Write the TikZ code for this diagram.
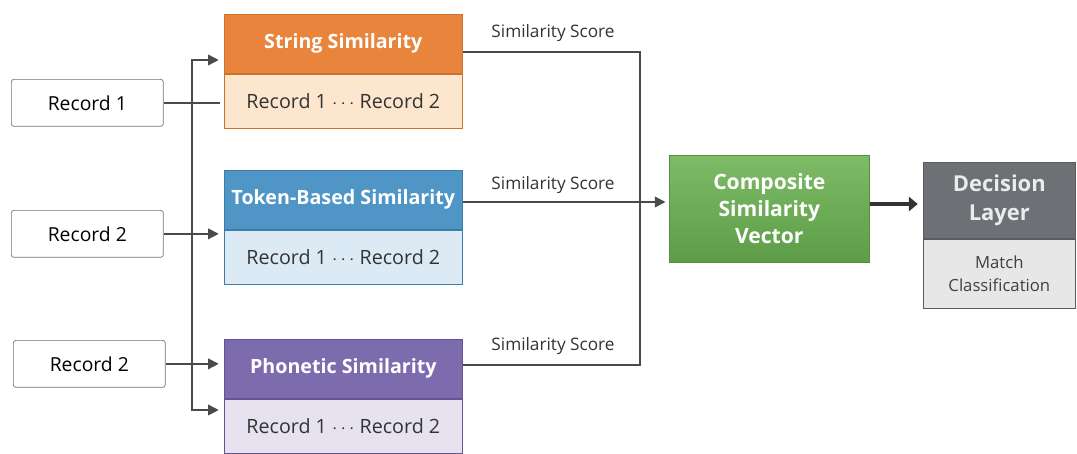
\documentclass[tikz,border=0pt]{standalone}
\usepackage{fontspec}
\setmainfont{Open Sans}
\usetikzlibrary{arrows.meta}

\definecolor{strhd}{HTML}{E8843C}
\definecolor{strbd}{HTML}{FCE6CE}
\definecolor{strln}{HTML}{C9732F}
\definecolor{tokhd}{HTML}{4F95C6}
\definecolor{tokbd}{HTML}{DCEAF5}
\definecolor{tokln}{HTML}{3F7BA8}
\definecolor{phohd}{HTML}{7C6CAE}
\definecolor{phobd}{HTML}{E6E2F0}
\definecolor{pholn}{HTML}{625592}
\definecolor{comptop}{HTML}{7DBB66}
\definecolor{compbot}{HTML}{5E9D48}
\definecolor{compln}{HTML}{548F40}
\definecolor{dechd}{HTML}{6D7075}
\definecolor{decbd}{HTML}{E7E7E8}
\definecolor{decln}{HTML}{5A5C60}
\definecolor{wire}{HTML}{4A4A4A}

\begin{document}
\begin{tikzpicture}[x=0.02cm,y=-0.02cm,
  rec/.style={draw=black!55,fill=white,rounded corners=1.5pt,minimum width=3.04cm,minimum height=0.94cm,
    font=\fontsize{11}{13}\selectfont,anchor=north west},
  head/.style={minimum width=4.76cm,minimum height=1.18cm,inner xsep=1pt,text=white,font=\bfseries\fontsize{11.2}{13}\selectfont,anchor=north west},
  body/.style={minimum width=4.76cm,minimum height=1.08cm,text=black!80,font=\fontsize{11.2}{13}\selectfont,anchor=north},
  score/.style={font=\fontsize{9.8}{11}\selectfont,text=black!80},
  arr/.style={draw=wire,line width=0.85pt,-{Triangle[length=6pt,width=6pt]}},
  wireline/.style={draw=wire,line width=0.85pt}]
\useasboundingbox (0,0) rectangle (1077,453);

% inputs
\node[rec] (rec1) at (11,79) {Record 1};
\node[rec] (rec2) at (11,210) {Record 2};
\node[rec] (rec3) at (13,340) {Record 2};

% similarity measures
\node[head,fill=strhd,draw=strln] (strhead) at (224,14) {String Similarity};
\node[body,fill=strbd,draw=strln] (strbody) at (strhead.south) {Record 1 $\cdots$ Record 2};
\node[head,fill=tokhd,draw=tokln] (tokhead) at (224,170) {Token-Based Similarity};
\node[body,fill=tokbd,draw=tokln] (tokbody) at (tokhead.south) {Record 1 $\cdots$ Record 2};
\node[head,fill=phohd,draw=pholn] (phohead) at (224,339) {Phonetic Similarity};
\node[body,fill=phobd,draw=pholn] (phobody) at (phohead.south) {Record 1 $\cdots$ Record 2};

% composite and decision
\node[draw=compln,top color=comptop,bottom color=compbot,text=white,align=center,
  font=\bfseries\fontsize{12}{15.5}\selectfont,minimum width=4cm,minimum height=2.14cm,anchor=north west]
  (comp) at (669,155) {Composite\\Similarity\\Vector};
\node[draw=decln,fill=dechd,text=black!8,align=center,font=\bfseries\fontsize{12.5}{16}\selectfont,
  minimum width=3.04cm,minimum height=1.52cm,anchor=north west] (dechead) at (923,162) {Decision\\Layer};
\node[draw=decln,fill=decbd,text=black!75,align=center,font=\fontsize{9.5}{13}\selectfont,
  minimum width=3.04cm,minimum height=1.38cm,anchor=north] (decbody) at (dechead.south) {Match\\Classification};

% bus on the left
\coordinate (bustop) at (192,60);
\coordinate (busbot) at (192,410);
\draw[arr,{Triangle[length=6pt,width=6pt]}-{Triangle[length=6pt,width=6pt]}]
  ([xshift=-3pt]strhead.west |- bustop) -- (bustop) -- (busbot) -- ([xshift=-3pt]phobody.west |- busbot);
\draw[wireline] (rec1.east) -- ([xshift=-2pt]strbody.west |- rec1.east);
\draw[arr] (rec2.east) -- ([xshift=-3pt]tokhead.west |- rec2.east);
\draw[arr] (rec3.east) -- ([xshift=-3pt]phohead.west |- rec3.east);

% scores
\coordinate (sctop) at (640,52);
\coordinate (scbot) at (640,365);
\draw[wireline] (strhead.east |- sctop) -- (sctop) -- (scbot) -- (phohead.east |- scbot);
\draw[arr] (tokhead.east |- 0,202) -- ([xshift=-2pt]comp.west |- 0,202);
\node[score] (sc1) at (553,33) {Similarity Score};
\node[score] (sc2) at (553,185) {Similarity Score};
\node[score] (sc3) at (553,346) {Similarity Score};

\draw[draw=black!80,line width=2.8pt,-{Triangle[length=5pt,width=8pt]}] (comp.east |- 0,204) -- ([xshift=-3pt]dechead.west |- 0,204);
\end{tikzpicture}
\end{document}
